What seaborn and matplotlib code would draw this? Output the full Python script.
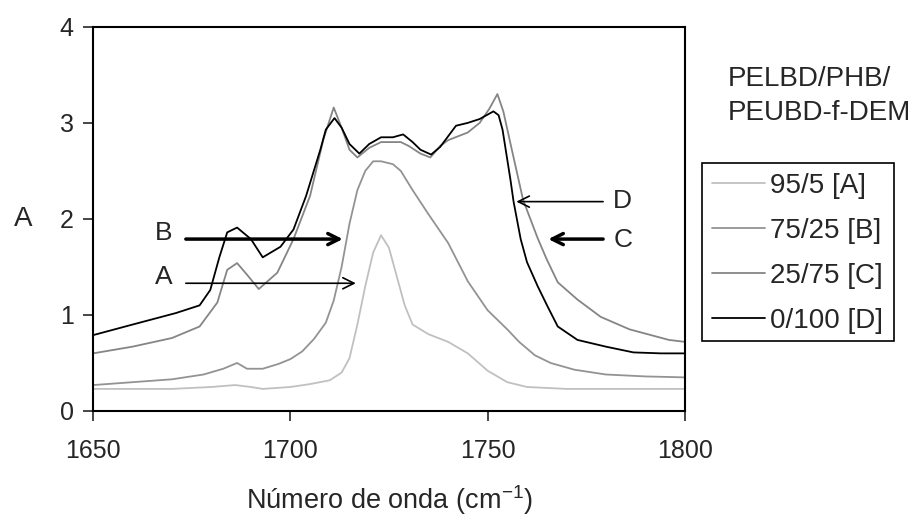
import numpy as np
import pandas as pd
import matplotlib
matplotlib.use('Agg')
import matplotlib.pyplot as plt
from matplotlib.patches import Rectangle
import seaborn as sns

sns.set_style('white')
plt.rcParams['font.family'] = ['Liberation Sans', 'DejaVu Sans']

# FTIR spectra (wavenumber cm-1, absorbance)
x_a = [1650, 1670, 1680, 1686, 1690, 1693, 1700, 1705, 1710, 1713, 1715, 1717, 1719, 1721,
       1723, 1725, 1727, 1729, 1731, 1735, 1740, 1745, 1750, 1755, 1760, 1765, 1770, 1800]
y_a = [0.23, 0.23, 0.25, 0.27, 0.25, 0.23, 0.25, 0.28, 0.32, 0.40, 0.55, 0.90, 1.30, 1.65,
       1.83, 1.70, 1.40, 1.10, 0.90, 0.80, 0.72, 0.60, 0.42, 0.30, 0.25, 0.24, 0.23, 0.23]

x_b = [1650, 1660, 1670, 1678, 1683, 1686.5, 1689, 1693, 1697, 1700, 1703, 1706, 1709, 1711,
       1713, 1715, 1717, 1719, 1721, 1723, 1726, 1728, 1731, 1735, 1740, 1745, 1750, 1755,
       1758, 1762, 1766, 1772, 1780, 1790, 1800]
y_b = [0.27, 0.30, 0.33, 0.38, 0.44, 0.50, 0.44, 0.44, 0.49, 0.54, 0.62, 0.75, 0.92, 1.15,
       1.50, 1.95, 2.30, 2.50, 2.60, 2.60, 2.57, 2.50, 2.30, 2.05, 1.75, 1.35, 1.05, 0.85,
       0.72, 0.58, 0.50, 0.43, 0.38, 0.36, 0.35]

x_c = [1650, 1660, 1670, 1677, 1681.5, 1684, 1686.5, 1689, 1692, 1696.7, 1700.8, 1705, 1708.4,
       1711, 1713, 1715, 1717, 1720, 1723, 1728, 1730, 1733, 1735.5, 1738, 1740, 1745,
       1748, 1750.5, 1752.5, 1754, 1756, 1759, 1762.7, 1765, 1767.8, 1772.8, 1778.7, 1786,
       1796, 1800]
y_c = [0.60, 0.67, 0.76, 0.88, 1.13, 1.47, 1.54, 1.42, 1.27, 1.44, 1.79, 2.24, 2.83,
       3.16, 2.95, 2.72, 2.64, 2.74, 2.80, 2.80, 2.76, 2.68, 2.64, 2.76, 2.82, 2.90,
       3.00, 3.15, 3.30, 3.12, 2.75, 2.20, 1.80, 1.58, 1.34, 1.16, 0.98, 0.85,
       0.74, 0.72]

x_d = [1650, 1660, 1671, 1677, 1679.7, 1682, 1684, 1686.5, 1690, 1693, 1697.5, 1700.8, 1704,
       1707.6, 1709, 1711.2, 1713, 1715, 1717.5, 1720, 1723, 1726, 1728.6, 1731, 1733,
       1735.7, 1738, 1742, 1745, 1748, 1751.5, 1752.8, 1753.8, 1755.8, 1756.6, 1758.4, 1760,
       1762.7, 1765.2, 1767.8, 1772.8, 1780, 1787, 1794, 1800]
y_d = [0.79, 0.90, 1.02, 1.10, 1.26, 1.60, 1.86, 1.91, 1.79, 1.60, 1.71, 1.89, 2.24,
       2.72, 2.93, 3.05, 2.95, 2.78, 2.68, 2.78, 2.85, 2.85, 2.88, 2.80, 2.72,
       2.67, 2.75, 2.97, 3.00, 3.04, 3.12, 3.08, 2.93, 2.41, 2.18, 1.79, 1.55,
       1.30, 1.09, 0.88, 0.74, 0.67, 0.61, 0.60, 0.60]

labels = ['95/5 [A]', '75/25 [B]', '25/75 [C]', '0/100 [D]']
colors = ['#c0c0c0', '#939393', '#858585', '#000000']

df = pd.concat([
    pd.DataFrame({'x': x_a, 'y': y_a, 'serie': labels[0]}),
    pd.DataFrame({'x': x_b, 'y': y_b, 'serie': labels[1]}),
    pd.DataFrame({'x': x_c, 'y': y_c, 'serie': labels[2]}),
    pd.DataFrame({'x': x_d, 'y': y_d, 'serie': labels[3]}),
])

fig = plt.figure(figsize=(9.13, 5.16), dpi=100)
ax = fig.add_axes([0.102, 0.2035, 0.648, 0.7445])

sns.lineplot(data=df, x='x', y='y', hue='serie', hue_order=labels,
             palette=dict(zip(labels, colors)), linewidth=1.3, sort=False,
             estimator=None, ax=ax)

ax.set_xlim(1650, 1800)
ax.set_ylim(0, 4)
ax.set_xticks([1650, 1700, 1750, 1800])
ax.set_yticks([0, 1, 2, 3, 4])
ax.tick_params(axis='both', labelsize=18, length=7, width=1.2, direction='out',
               left=True, bottom=True)
ax.tick_params(axis='x', pad=13)
ax.tick_params(axis='y', pad=7)
for s in ax.spines.values():
    s.set_color('black')
    s.set_linewidth(1.5)

ax.set_xlabel('Número de onda (cm$^{\\mathregular{-1}}$)', fontsize=19.5, va='center')
ax.xaxis.set_label_coords(0.5, -0.232)
ax.set_ylabel('A', fontsize=20, rotation=0, va='center', ha='center')
ax.yaxis.set_label_coords(-0.118, 0.5)

# arrows pointing at the curves
ax.annotate('', xy=(1717.3, 1.33), xytext=(1672.8, 1.33),
            arrowprops=dict(arrowstyle='->', color='black', lw=1.2, mutation_scale=20))
ax.annotate('', xy=(1714, 1.79), xytext=(1672.8, 1.79),
            arrowprops=dict(arrowstyle='->', color='black', lw=2.5, mutation_scale=20))
ax.annotate('', xy=(1756.6, 2.18), xytext=(1780, 2.18),
            arrowprops=dict(arrowstyle='->', color='black', lw=1.2, mutation_scale=20))
ax.annotate('', xy=(1764.7, 1.79), xytext=(1780, 1.79),
            arrowprops=dict(arrowstyle='->', color='black', lw=2.5, mutation_scale=20))
ax.text(1668.0, 1.39, 'A', fontsize=19, ha='center', va='center')
ax.text(1668.0, 1.85, 'B', fontsize=19, ha='center', va='center')
ax.text(1784.3, 2.19, 'D', fontsize=19, ha='center', va='center')
ax.text(1784.3, 1.78, 'C', fontsize=19, ha='center', va='center')

# legend without its own frame, boxed by a plain rectangle
ax.legend_.remove()
handles = ax.get_lines()[:4]
leg = fig.legend(handles, labels, loc='upper left', bbox_to_anchor=(702 / 913, 1 - 163 / 516),
                 fontsize=20, frameon=False, handlelength=1.9, handletextpad=0.2,
                 labelspacing=0.68, borderpad=0.36, borderaxespad=0)
fig.patches.append(Rectangle((702 / 913, 1 - 341 / 516), 192 / 913, 178 / 516,
                             transform=fig.transFigure, fill=False, ec='black', lw=1.2))

fig.text(0.797, 0.814, 'PELBD/PHB/\nPEUBD-f-DEM', fontsize=20, ha='left', va='center',
         linespacing=1.37)

fig.savefig('out.png', dpi=100)
